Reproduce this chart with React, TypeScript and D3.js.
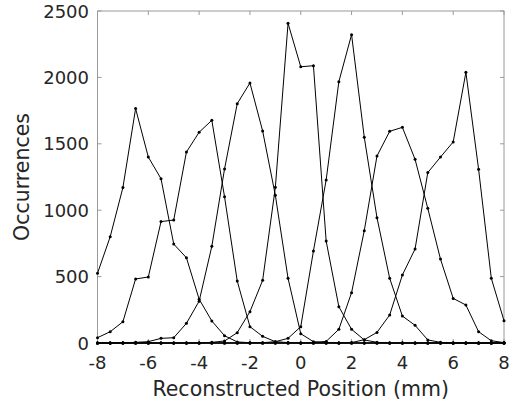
import React, { useRef, useEffect } from 'react';
import * as d3 from 'd3';

// positions in mm, 0.5 mm steps
const positions = d3.range(33).map((i) => -8 + i * 0.5);

const curveA = [525, 800, 1170, 1765, 1400, 1237, 745, 642, 330, 166, 55, 8, 2, 0, 0, 0, 0, 0, 0, 0, 0, 0, 0, 0, 0, 0, 0, 0, 0, 0, 0, 0, 0];
const curveB = [40, 85, 160, 482, 497, 914, 926, 1438, 1587, 1677, 1102, 467, 123, 50, 10, 3, 0, 0, 0, 0, 0, 0, 0, 0, 0, 0, 0, 0, 0, 0, 0, 0, 0];
const curveC = [0, 0, 2, 5, 10, 35, 40, 148, 315, 728, 1310, 1802, 1958, 1596, 1112, 487, 70, 10, 5, 0, 0, 0, 0, 0, 0, 0, 0, 0, 0, 0, 0, 0, 0];
const curveD = [0, 0, 0, 0, 0, 0, 0, 0, 0, 5, 15, 78, 236, 472, 1172, 2407, 2080, 2088, 768, 273, 103, 23, 5, 0, 0, 0, 0, 0, 0, 0, 0, 0, 0];
const curveE = [0, 0, 0, 0, 0, 0, 0, 0, 0, 0, 0, 0, 0, 2, 10, 35, 123, 693, 1227, 1968, 2322, 1549, 944, 487, 203, 133, 23, 5, 0, 0, 0, 0, 0];
const curveF = [0, 0, 0, 0, 0, 0, 0, 0, 0, 0, 0, 0, 0, 0, 0, 0, 0, 2, 12, 103, 379, 846, 1408, 1594, 1624, 1383, 1014, 632, 336, 286, 85, 17, 3];
const curveG = [0, 0, 0, 0, 0, 0, 0, 0, 0, 0, 0, 0, 0, 0, 0, 0, 0, 0, 0, 0, 3, 25, 80, 211, 512, 708, 1283, 1400, 1514, 2038, 1308, 487, 168];

const allCurves = [curveA, curveB, curveC, curveD, curveE, curveF, curveG];

const xTicks = [-8, -6, -4, -2, 0, 2, 4, 6, 8];
const yTicks = [0, 500, 1000, 1500, 2000, 2500];

const App = () => {
  const svgRef = useRef<SVGSVGElement>(null);

  useEffect(() => {
    const width = 510, height = 404;
    const left = 97.5, right = 504, top = 11, bottom = 343;

    const svg = d3.select(svgRef.current);
    svg.selectAll('*').remove();

    const x = d3.scaleLinear().domain([-8, 8]).range([left, right]);
    const y = d3.scaleLinear().domain([0, 2500]).range([bottom, top]);

    const font = 'DejaVu Sans, sans-serif';
    const textCol = '#262626';

    // box
    svg.append('rect')
      .attr('x', left).attr('y', top)
      .attr('width', right - left).attr('height', bottom - top)
      .attr('fill', 'white').attr('stroke', '#9a9a9a').attr('stroke-width', 1);

    // ticks inside box (bottom, top, left, right)
    const tickLen = 4;
    const tg = svg.append('g').attr('stroke', '#9a9a9a').attr('stroke-width', 1);
    xTicks.forEach((t) => {
      tg.append('line').attr('x1', x(t)).attr('x2', x(t)).attr('y1', bottom).attr('y2', bottom - tickLen);
      tg.append('line').attr('x1', x(t)).attr('x2', x(t)).attr('y1', top).attr('y2', top + tickLen);
    });
    yTicks.forEach((t) => {
      tg.append('line').attr('x1', left).attr('x2', left + tickLen).attr('y1', y(t)).attr('y2', y(t));
      tg.append('line').attr('x1', right).attr('x2', right - tickLen).attr('y1', y(t)).attr('y2', y(t));
    });

    // tick labels
    svg.append('g').selectAll('text').data(xTicks).join('text')
      .attr('x', (d) => x(d)).attr('y', bottom + 26)
      .attr('text-anchor', 'middle')
      .style('font-family', font).style('font-size', '18px').attr('fill', textCol)
      .text((d) => d);

    svg.append('g').selectAll('text').data(yTicks).join('text')
      .attr('x', left - 8.5).attr('y', (d) => y(d) + 6.5)
      .attr('text-anchor', 'end')
      .style('font-family', font).style('font-size', '18px').attr('fill', textCol)
      .text((d) => d);

    // axis labels
    svg.append('text')
      .attr('x', (left + right) / 2).attr('y', 396)
      .attr('text-anchor', 'middle')
      .style('font-family', font).style('font-size', '20.5px').attr('fill', textCol)
      .text('Reconstructed Position (mm)');

    svg.append('text')
      .attr('transform', `translate(29,${(top + bottom) / 2}) rotate(-90)`)
      .attr('text-anchor', 'middle')
      .style('font-family', font).style('font-size', '20.5px').attr('fill', textCol)
      .text('Occurrences');

    // curves
    const line = d3.line<number>()
      .x((d, i) => x(positions[i]))
      .y((d) => y(d));

    const cg = svg.append('g');
    allCurves.forEach((c) => {
      cg.append('path')
        .attr('d', line(c))
        .attr('fill', 'none')
        .attr('stroke', '#000')
        .attr('stroke-width', 1);
      cg.append('g').selectAll('circle').data(c).join('circle')
        .attr('cx', (d, i) => x(positions[i]))
        .attr('cy', (d) => y(d))
        .attr('r', 1.5)
        .attr('fill', '#000');
    });

    svg.attr('width', width).attr('height', height);
  }, []);

  return (
    <svg ref={svgRef} width={510} height={404}
      style={{ position: 'absolute', left: 0, top: 0, display: 'block' }} />
  );
};

export default App;
